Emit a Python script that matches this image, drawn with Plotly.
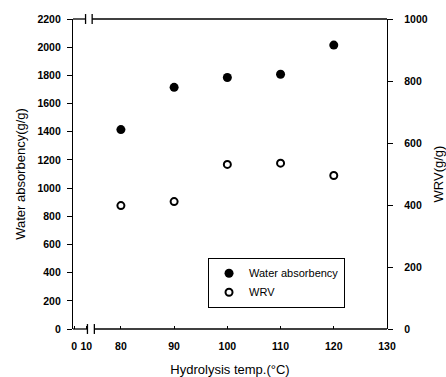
import plotly.graph_objects as go

temps = [80, 90, 100, 110, 120]
water_absorbency = [1415, 1715, 1785, 1808, 2015]
wrv = [398, 411, 531, 535, 495]

x_tick_vals = [71.2, 73.5, 80, 90, 100, 110, 120, 130]
x_tick_text = ["0", "10", "80", "90", "100", "110", "120", "130"]
left_ticks = list(range(0, 2201, 200))
right_ticks = list(range(0, 1001, 200))

FONT = "Liberation Sans, Arial, sans-serif"
tickfont = dict(family=FONT, size=10.5, color="black", weight="bold")
titlefont = dict(family=FONT, size=13, color="black")

fig = go.Figure()
fig.add_trace(go.Scatter(
    x=temps, y=water_absorbency, mode="markers", name="Water absorbency",
    marker=dict(symbol="circle", size=9, color="black", line=dict(width=0)),
))
fig.add_trace(go.Scatter(
    x=temps, y=wrv, mode="markers", name="WRV", yaxis="y2",
    marker=dict(symbol="circle-open", size=7, color="black", line=dict(width=2)),
))

axis_common = dict(showgrid=False, zeroline=False, linecolor="black", linewidth=1.3,
                   tickcolor="black", tickfont=tickfont, automargin=False)

fig.update_layout(
    width=446, height=377,
    margin=dict(l=73, r=59, t=19, b=47.5),
    plot_bgcolor="white", paper_bgcolor="white",
    showlegend=True,
    legend=dict(x=0.43, y=0.23, xanchor="left", yanchor="top",
                bordercolor="black", borderwidth=1, bgcolor="white",
                font=dict(family=FONT, size=11, color="black"),
                tracegroupgap=0, itemwidth=30),
    xaxis=dict(range=[71, 130], tickvals=x_tick_vals, ticktext=x_tick_text,
               ticks="inside", ticklen=3, showline=False, ticklabelstandoff=9,
               title=dict(text="Hydrolysis temp.(°C)", font=titlefont, standoff=14),
               **axis_common),
    yaxis=dict(range=[0, 2200], tickvals=left_ticks, ticks="outside", ticklen=5,
               showline=True, mirror=False, ticklabelstandoff=4,
               title=dict(text="Water absorbency(g/g)", font=titlefont, standoff=8),
               **axis_common),
    yaxis2=dict(range=[0, 1000], tickvals=right_ticks, overlaying="y", side="right",
                ticks="outside", ticklen=5, showline=True, ticklabelstandoff=9,
                title=dict(text="WRV(g/g)", font=titlefont, standoff=16),
                **axis_common),
)

# frame lines (top and bottom) with axis-break marks
line = dict(color="black", width=1.3)
shapes = []
for yv, g0, g1 in [(1, 0.040, 0.061), (0, 0.046, 0.068)]:
    shapes.append(dict(type="line", xref="paper", yref="paper", x0=0, x1=g0, y0=yv, y1=yv, line=line))
    shapes.append(dict(type="line", xref="paper", yref="paper", x0=g1, x1=1, y0=yv, y1=yv, line=line))
    for gx in (g0, g1):
        shapes.append(dict(type="line", xref="paper", yref="paper", x0=gx, x1=gx,
                           y0=yv - 0.016, y1=yv + 0.016, line=line))
fig.update_layout(shapes=shapes)

fig.write_html("out.html")
